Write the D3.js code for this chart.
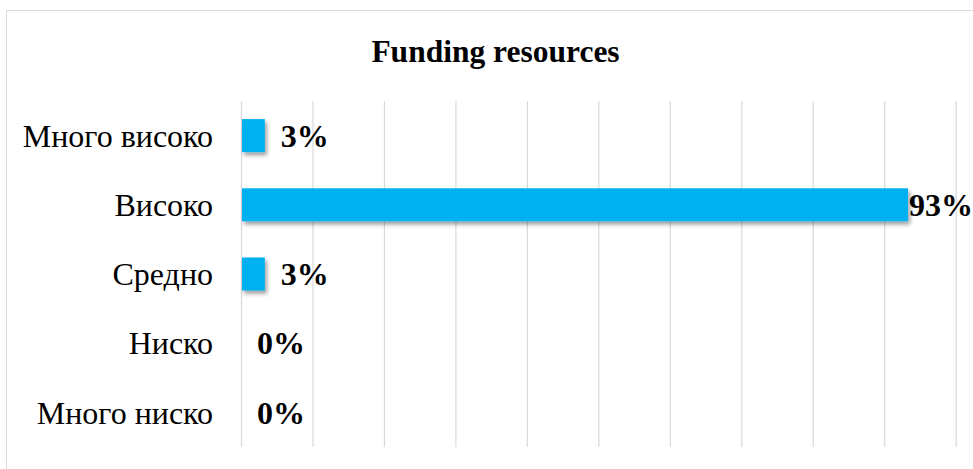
<!DOCTYPE html>
<html>
<head>
<meta charset="utf-8">
<script src="https://cdn.jsdelivr.net/npm/d3@7"></script>
<style>
html,body{margin:0;padding:0;background:#fff;}
svg{display:block;}
</style>
</head>
<body>
<script>
const title = "Funding resources";
const categories = ["Много високо", "Високо", "Средно", "Ниско", "Много ниско"];
const values = [3.33, 93.33, 3.33, 0, 0];
const gridTicks = [0, 10, 20, 30, 40, 50, 60, 70, 80, 90, 100];

const W = 973, H = 469;
const plot = {left: 241, right: 955.7, top: 101, bottom: 447};
const FONT = "'Liberation Serif','Times New Roman',serif";

const svg = d3.select("body").append("svg").attr("width", W).attr("height", H);

const defs = svg.append("defs");
const f = defs.append("filter").attr("id", "shadow")
  .attr("x", "-20%").attr("y", "-30%").attr("width", "140%").attr("height", "170%");
f.append("feDropShadow").attr("dx", 2).attr("dy", 3).attr("stdDeviation", 2)
  .attr("flood-color", "#000").attr("flood-opacity", 0.4);

// outer chart border (right/bottom edges fall outside the picture)
svg.append("rect").attr("x", 6.5).attr("y", 10.5).attr("width", 980).attr("height", 480)
  .attr("fill", "#fff").attr("stroke", "#d9d9d9").attr("stroke-width", 1);

const x = d3.scaleLinear().domain([0, 100]).range([plot.left, plot.right]);
const y = d3.scaleBand().domain(categories).range([plot.top, plot.bottom])
  .paddingInner(0.523).paddingOuter(0.2615);

// gridlines via axis
const gx = svg.append("g").attr("transform", `translate(0,${plot.bottom})`)
  .call(d3.axisBottom(x).tickValues(gridTicks).tickSize(-(plot.bottom - plot.top)).tickFormat(""));
gx.select(".domain").remove();
gx.selectAll(".tick line").attr("stroke", "#d9d9d9").attr("stroke-width", 1.2);

// category axis
const gy = svg.append("g").attr("transform", `translate(${plot.left},0)`)
  .call(d3.axisLeft(y).tickSize(0).tickPadding(28));
gy.select(".domain").remove();
gy.selectAll(".tick text").attr("font-family", FONT).attr("font-size", 32)
  .attr("fill", "#000").attr("dy", "0.35em");

// bars
svg.append("g").selectAll("rect").data(categories).join("rect")
  .attr("x", x(0) + 1)
  .attr("y", d => y(d))
  .attr("width", (d, i) => Math.max(0, x(values[i]) - x(0) - 1))
  .attr("height", y.bandwidth())
  .attr("fill", "#00B0F0")
  .attr("filter", (d, i) => values[i] > 0 ? "url(#shadow)" : null);

// value labels
const lbl = svg.append("g").selectAll("text").data(categories).join("text")
  .attr("font-family", FONT).attr("font-size", 32).attr("font-weight", "bold")
  .attr("fill", "#000").attr("dy", "0.35em")
  .attr("y", d => y(d) + y.bandwidth() / 2)
  .text((d, i) => Math.round(values[i]) + "%");
lbl.each(function(d, i) {
  const w = this.getComputedTextLength();
  const xx = Math.min(x(values[i]) + 16, W - w);
  d3.select(this).attr("x", xx);
});

// title
svg.append("text").attr("x", 495.5).attr("y", 61.5).attr("text-anchor", "middle")
  .attr("font-family", FONT).attr("font-size", 31.5).attr("font-weight", "bold")
  .attr("fill", "#000").text(title);
</script>
</body>
</html>
